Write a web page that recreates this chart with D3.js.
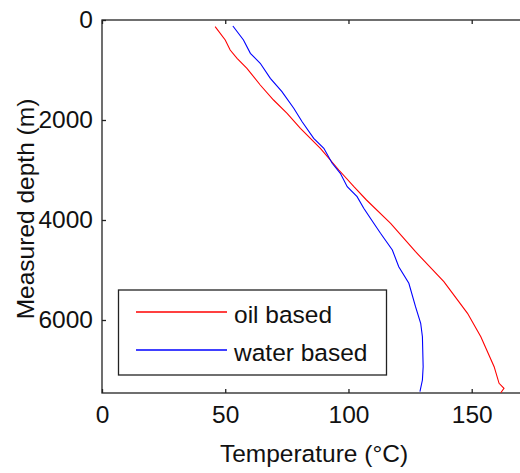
<!DOCTYPE html>
<html>
<head>
<meta charset="utf-8">
<script src="https://cdn.jsdelivr.net/npm/d3@7"></script>
<style>
  html, body { margin: 0; padding: 0; background: #fff; }
  svg { display: block; }
  text { font-family: "Liberation Sans", Arial, sans-serif; fill: #111; }
</style>
</head>
<body>
<svg id="chart" width="520" height="473"></svg>
<script>
// ---- data (temperature °C, measured depth m) ----
const oilTemp  = [45.9, 50.0, 52.0, 54.8, 58.8, 64.2, 69.6, 75.1, 80.5, 88.6, 96.1, 102.2, 107.3, 117.1, 127.2, 138.7, 148.3, 153.7, 159.1, 161.1, 163.1, 161.8];
const oilDepth = [134, 400, 600, 766, 966, 1300, 1600, 1866, 2166, 2566, 3000, 3334, 3600, 4066, 4634, 5234, 5866, 6334, 6934, 7266, 7366, 7454];
const waterTemp  = [53.1, 57.4, 60.2, 64.2, 68.3, 73.0, 77.8, 81.2, 85.9, 90.0, 93.4, 96.7, 99.5, 103.5, 106.2, 108.9, 113.0, 117.8, 120.4, 124.5, 127.2, 129.3, 130.0, 130.3, 130.0, 129.0];
const waterDepth = [120, 400, 666, 866, 1166, 1434, 1766, 2034, 2366, 2566, 2866, 3066, 3334, 3534, 3766, 3966, 4266, 4600, 4934, 5266, 5734, 6066, 6334, 6934, 7200, 7434];
const xTicks = [0, 50, 100, 150];
const yTicks = [0, 2000, 4000, 6000];
const seriesNames = ["oil based", "water based"];
const seriesColors = ["#ff0000", "#0000ff"];
const xLabel = "Temperature (°C)";
const yLabel = "Measured depth (m)";

// ---- layout ----
const L = 102, R = 521, T = 20, B = 393;
const svg = d3.select("#chart");
const x = d3.scaleLinear().domain([0, 170]).range([L, R]);
const y = d3.scaleLinear().domain([0, 7460]).range([T, B]);

const axisColor = "#222";
const fontSize = 24.5;

// plot frame
svg.append("rect").attr("x", L).attr("y", T).attr("width", R - L).attr("height", B - T)
  .attr("fill", "none").attr("stroke", axisColor).attr("stroke-width", 1.3);

// bottom axis (ticks inward)
const gx = svg.append("g").attr("transform", `translate(0,${B})`)
  .call(d3.axisBottom(x).tickValues(xTicks).tickSizeInner(-4).tickSizeOuter(0).tickPadding(13));
gx.select(".domain").remove();
gx.selectAll("line").attr("stroke", axisColor).attr("stroke-width", 1.3);
gx.selectAll("text").style("font-size", fontSize + "px").attr("fill", "#111")
  .attr("font-family", "Liberation Sans, Arial, sans-serif");

// top ticks
const gxt = svg.append("g").attr("transform", `translate(0,${T})`)
  .call(d3.axisTop(x).tickValues(xTicks).tickSizeInner(-4).tickSizeOuter(0).tickFormat(""));
gxt.select(".domain").remove();
gxt.selectAll("line").attr("stroke", axisColor).attr("stroke-width", 1.3);

// left axis
const gy = svg.append("g").attr("transform", `translate(${L},0)`)
  .call(d3.axisLeft(y).tickValues(yTicks).tickSizeInner(-4).tickSizeOuter(0).tickPadding(9).tickFormat(d3.format("d")));
gy.select(".domain").remove();
gy.selectAll("line").attr("stroke", axisColor).attr("stroke-width", 1.3);
gy.selectAll("text").style("font-size", fontSize + "px").attr("fill", "#111")
  .attr("font-family", "Liberation Sans, Arial, sans-serif");

// axis labels
svg.append("text").attr("x", (L + 520) / 2 + 3).attr("y", 462)
  .attr("text-anchor", "middle").style("font-size", fontSize + "px").text(xLabel);
svg.append("text").attr("transform", `translate(34,${209}) rotate(-90)`)
  .attr("text-anchor", "middle").style("font-size", fontSize + "px").text(yLabel);

// lines
const clip = svg.append("clipPath").attr("id", "clip").append("rect")
  .attr("x", L).attr("y", T).attr("width", R - L).attr("height", B - T);
const line = d3.line().x(d => x(d[0])).y(d => y(d[1]));
const series = [d3.zip(oilTemp, oilDepth), d3.zip(waterTemp, waterDepth)];
series.forEach((s, i) => {
  svg.append("path").datum(s).attr("d", line).attr("fill", "none")
    .style("stroke", seriesColors[i]).attr("stroke-width", 1.1)
    .attr("clip-path", "url(#clip)");
});

// legend
const lg = svg.append("g");
lg.append("rect").attr("x", 118.5).attr("y", 290).attr("width", 268).attr("height", 85)
  .attr("fill", "#fff").attr("stroke", axisColor).attr("stroke-width", 1.3);
const legY = [312, 350];
seriesNames.forEach((name, i) => {
  lg.append("path").attr("d", `M136,${legY[i]}H227`)
    .style("stroke", seriesColors[i]).style("stroke-width", "1.4px").style("fill", "none");
  lg.append("text").attr("x", 234).attr("y", legY[i] + 10.5)
    .style("font-size", fontSize + "px").text(name);
});
</script>
</body>
</html>
